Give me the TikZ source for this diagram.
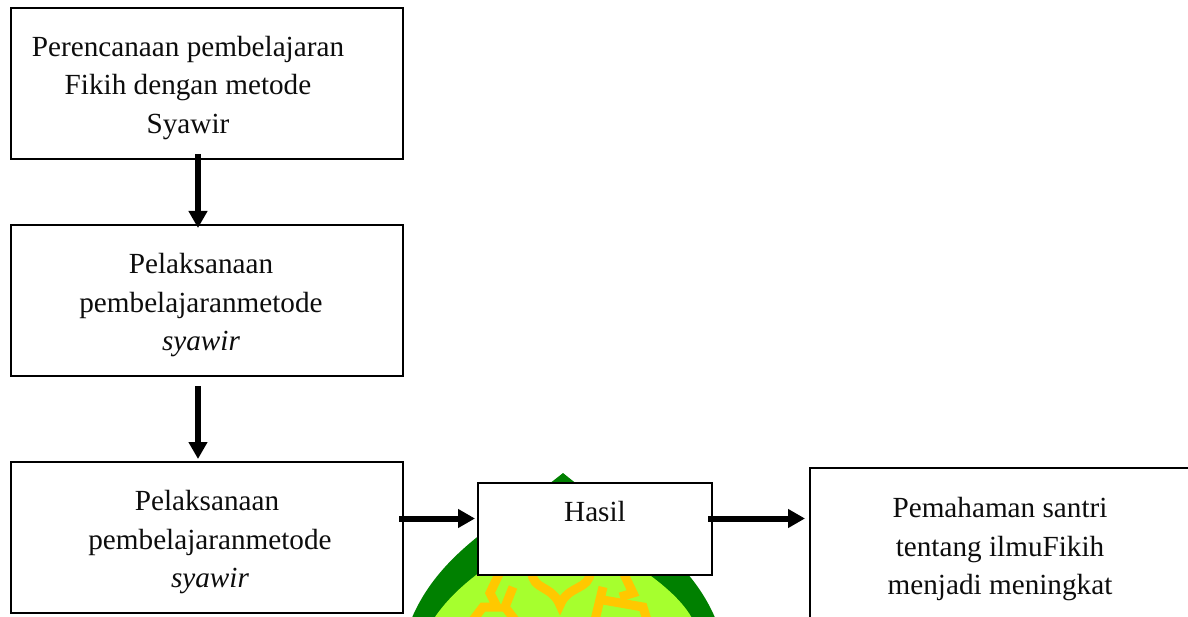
\documentclass[tikz,border=0pt]{standalone}
\usepackage{fontspec}
\setmainfont{Liberation Serif}
\usetikzlibrary{arrows.meta}
\definecolor{emgreen}{HTML}{008000}
\definecolor{emlime}{HTML}{A6FF2E}
\definecolor{emgold}{HTML}{FFC800}
\tikzset{
  flowbox/.style={draw=black,line width=2pt,fill=white,rectangle,inner sep=0pt,anchor=north west},
  boxtext/.style={align=center,font=\fontsize{29.2}{39}\selectfont,inner sep=0pt,anchor=base,text=black!95},
  flowarrow/.style={line width=6pt,-{Triangle[length=17pt,width=18pt]},black},
  orn/.style={draw=emgold,line width=9pt,line join=miter}
}
\begin{document}
\begin{tikzpicture}[x=1pt,y=-1pt]
\useasboundingbox (0,0) rectangle (1188,617);
\clip (0,0) rectangle (1188,617);
\fill[white] (0,0) rectangle (1188,617);
% emblem
\fill[emgreen] (563,473) .. controls (505,520) and (440,550) .. (411,620) -- (716,620) .. controls (687,550) and (620,520) .. (563,473) -- cycle;
\fill[emlime] (563,525) .. controls (520,545) and (462,575) .. (433,620) -- (693,620) .. controls (675,585) and (615,550) .. (563,525) -- cycle;
\draw[orn] (532,572) .. controls (532,590) and (552,585) .. (560,605) .. controls (568,585) and (590,590) .. (590,572);
\draw[orn] (500,572) -- (490,593) -- (497,607) -- (483,607) -- (473,620);
\draw[orn] (513,587) -- (505,607) -- (515,620);
\draw[orn] (623,572) -- (633,593) -- (620,597);
\draw[orn] (603,587) -- (595,620);
\draw[orn] (603,600) -- (643,607) -- (647,620);
% boxes
\node[flowbox,minimum width=392pt,minimum height=151pt] (a) at (10.4,7.4) {};
\node[flowbox,minimum width=392pt,minimum height=151pt] (b) at (10.4,224.4) {};
\node[flowbox,minimum width=392pt,minimum height=151pt] (c) at (10.4,461.4) {};
\node[flowbox,minimum width=234pt,minimum height=92pt] (h) at (477.4,482.4) {};
\node[flowbox,minimum width=380pt,minimum height=180pt] (d) at (809.4,467.4) {};
% texts
\node[boxtext] (t1) at (188,57) {Perencanaan pembelajaran};
\node[boxtext] (t2) at (188,95) {Fikih dengan metode};
\node[boxtext] (t3) at (188,134) {Syawir};
\node[boxtext] (t4) at (201,274) {Pelaksanaan};
\node[boxtext] (t5) at (201,313) {pembelajaranmetode};
\node[boxtext] (t6) at (201,351) {\itshape syawir};
\node[boxtext] (t7) at (207,510) {Pelaksanaan};
\node[boxtext] (t8) at (210,549) {pembelajaranmetode};
\node[boxtext] (t9) at (210,587) {\itshape syawir};
\node[boxtext] (t10) at (595,521) {Hasil};
\node[boxtext] (t11) at (1000,517) {Pemahaman santri};
\node[boxtext] (t12) at (1000,556) {tentang ilmuFikih};
\node[boxtext] (t13) at (1000,594) {menjadi meningkat};
% connector ends
\coordinate (a1) at (198,154);
\coordinate (b0) at (198,228);
\coordinate (b1) at (198,386);
\coordinate (c0) at (198,459);
\coordinate (c1) at (399,518.5);
\coordinate (h0) at (475,518.5);
\coordinate (h1) at (708,518.5);
\coordinate (d0) at (805,518.5);
\draw[flowarrow] (a1) -- (b0);
\draw[flowarrow] (b1) -- (c0);
\draw[flowarrow] (c1) -- (h0);
\draw[flowarrow] (h1) -- (d0);
\end{tikzpicture}
\end{document}
